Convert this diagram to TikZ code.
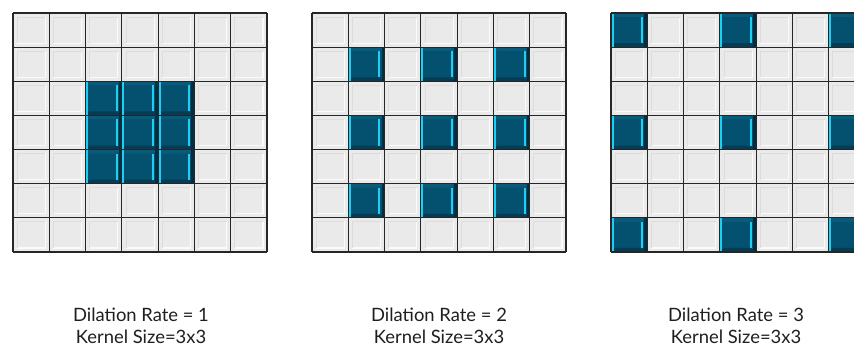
\documentclass[tikz,border=0pt]{standalone}
\usepackage{fontspec}
\setmainfont{Lato}
\definecolor{lightface}{HTML}{EAEAEA}
\definecolor{lighthi}{HTML}{FAFAFA}
\definecolor{lightsh}{HTML}{DCDCDC}
\definecolor{darkface}{HTML}{03506F}
\definecolor{darktop}{HTML}{0A5A7A}
\definecolor{darkbot}{HTML}{023D57}
\definecolor{darkedge}{HTML}{012E42}
\definecolor{cyanhi}{HTML}{1BD0F4}
\definecolor{gridline}{HTML}{262626}
\tikzset{
  gridstroke/.style={draw=gridline, line width=1.15pt},
  caption/.style={align=center, font=\fontsize{18.4}{21.8}\selectfont, text=black!88, inner sep=0pt},
}
\newcommand{\cw}{36.29}
\newcommand{\ch}{34.14}
% light cell at (#1,#2) = top-left corner
\newcommand{\lightcell}[2]{%
  \fill[lightface] (#1,#2) rectangle ++(\cw,\ch);
  \draw[lighthi, line width=1.1pt] (#1+\cw-4,#2+3.5) -- (#1+\cw-4,#2+\ch-4) -- (#1+4,#2+\ch-4);
  \draw[lightsh, line width=0.7pt] (#1+4,#2+\ch-4) -- (#1+4,#2+4) -- (#1+\cw-4,#2+4);
}
\newcommand{\darkcell}[2]{%
  \fill[darkface] (#1,#2) rectangle ++(\cw,\ch);
  \fill[darktop] (#1,#2) -- ++(\cw,0) -- ++(-5,4) -- (#1+4,#2+4) -- cycle;
  \fill[darkbot] (#1,#2+\ch) -- ++(\cw,0) -- ++(-5,-4) -- (#1+4,#2+\ch-4) -- cycle;
  \fill[darkedge] (#1+\cw-3,#2) rectangle (#1+\cw,#2+\ch);
  \fill[cyanhi] (#1+\cw-6.2,#2+4) rectangle (#1+\cw-4.2,#2+\ch-4);
  \fill[cyanhi] (#1,#2) rectangle (#1+2.6,#2+\ch);
}
\begin{document}
\begin{tikzpicture}[x=1pt,y=-1pt]
\useasboundingbox (0,0) rectangle (854,349);
\fill[white] (0,0) rectangle (854,349);
\begin{scope}
\clip (0,0) rectangle (854,349);
% grid 1
\foreach \r in {0,...,6}{\foreach \c in {0,...,6}{
  \pgfmathsetmacro{\xx}{13+\c*\cw}\pgfmathsetmacro{\yy}{13+\r*\ch}
  \pgfmathtruncatemacro{\dk}{(\r>1)*(\r<5)*(\c>1)*(\c<5)}
  \ifnum\dk=1 \darkcell{\xx}{\yy}\else\lightcell{\xx}{\yy}\fi
}}
\foreach \i in {0,...,7}{
  \draw[gridstroke] (13+\i*\cw,13) -- (13+\i*\cw,251.98);
  \draw[gridstroke] (13,13+\i*\ch) -- (267.03,13+\i*\ch);
}
% grid 2
\foreach \r in {0,...,6}{\foreach \c in {0,...,6}{
  \pgfmathsetmacro{\xx}{312+\c*\cw}\pgfmathsetmacro{\yy}{13+\r*\ch}
  \pgfmathtruncatemacro{\dk}{(mod(\r,2)==1)*(mod(\c,2)==1)}
  \ifnum\dk=1 \darkcell{\xx}{\yy}\else\lightcell{\xx}{\yy}\fi
}}
\foreach \i in {0,...,7}{
  \draw[gridstroke] (312+\i*\cw,13) -- (312+\i*\cw,251.98);
  \draw[gridstroke] (312,13+\i*\ch) -- (566.03,13+\i*\ch);
}
% grid 3
\foreach \r in {0,...,6}{\foreach \c in {0,...,6}{
  \pgfmathsetmacro{\xx}{611+\c*\cw}\pgfmathsetmacro{\yy}{13+\r*\ch}
  \pgfmathtruncatemacro{\dk}{(mod(\r,3)==0)*(mod(\c,3)==0)}
  \ifnum\dk=1 \darkcell{\xx}{\yy}\else\lightcell{\xx}{\yy}\fi
}}
\foreach \i in {0,...,7}{
  \draw[gridstroke] (611+\i*\cw,13) -- (611+\i*\cw,251.98);
  \draw[gridstroke] (611,13+\i*\ch) -- (865.03,13+\i*\ch);
}
\end{scope}
\node[caption] (cap1) at (141,326) {Dilation Rate = 1\\Kernel Size=3x3};
\node[caption] (cap2) at (439,326) {Dilation Rate = 2\\Kernel Size=3x3};
\node[caption] (cap3) at (736,326) {Dilation Rate = 3\\Kernel Size=3x3};
\end{tikzpicture}
\end{document}
